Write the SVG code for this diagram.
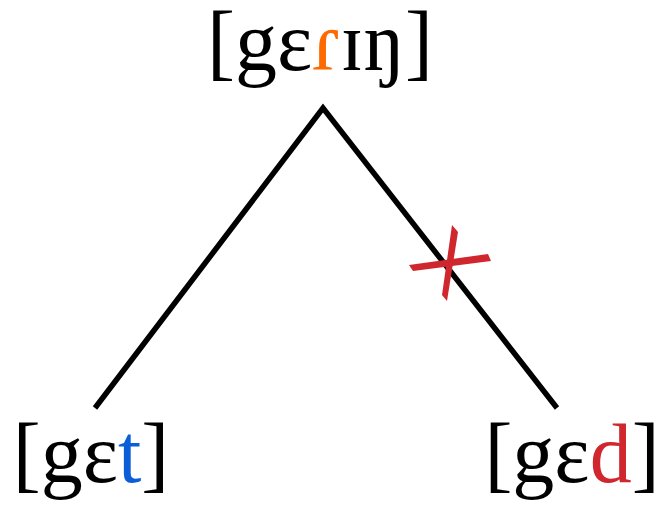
<svg xmlns="http://www.w3.org/2000/svg" width="663" height="511" viewBox="0 0 663 511">
<style>
.t{font-family:"Liberation Serif","DejaVu Serif",serif;font-size:84px;fill:#000}
.ln{stroke:#000;stroke-width:5.5;fill:none}
.x{fill:#d0272f}
</style>
<rect width="663" height="511" fill="#fff"/>
<g id="connectors">
<polyline class="ln" points="95,408 323,108 557,408"/>
<g id="cross">
<polygon class="x" points="409,265 488,254 491,261 413,271"/>
<polygon class="x" points="452,225 458,232 447,301 442,295"/>
</g>
</g>
<g id="top"><text class="t" x="320" y="70" text-anchor="middle">[gɛ<tspan fill="#ff6a00">ɾ</tspan>ɪŋ]</text></g>
<g id="left"><text class="t" x="91" y="482" text-anchor="middle">[gɛ<tspan fill="#0a5fd8">t</tspan>]</text></g>
<g id="right"><text class="t" x="572" y="482" text-anchor="middle">[gɛ<tspan fill="#d0272f">d</tspan>]</text></g>
</svg>
